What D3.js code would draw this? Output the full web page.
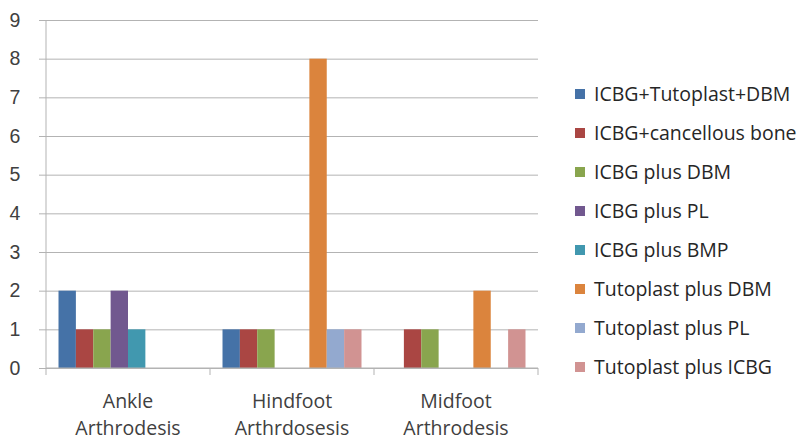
<!DOCTYPE html>
<html>
<head>
<meta charset="utf-8">
<script src="https://cdn.jsdelivr.net/npm/d3@7"></script>
<style>
  html, body { margin: 0; padding: 0; background: #fff; }
  svg { display: block; font-family: "Open Sans", "DejaVu Sans", sans-serif; }
</style>
</head>
<body>
<svg id="chart" width="804" height="439"></svg>
<script>
// Procedure categories (second-line words split for the wrapped axis labels)
const categories = ["Ankle Arthrodesis", "Hindfoot Arthrdosesis", "Midfoot Arthrodesis"];
const categoryLines = [["Ankle", "Arthrodesis"], ["Hindfoot", "Arthrdosesis"], ["Midfoot", "Arthrodesis"]];

// Graft types (series)
const seriesNames = [
  "ICBG+Tutoplast+DBM",
  "ICBG+cancellous bone",
  "ICBG plus DBM",
  "ICBG plus PL",
  "ICBG plus BMP",
  "Tutoplast plus DBM",
  "Tutoplast plus PL",
  "Tutoplast plus ICBG"
];
const seriesColors = ["#4572a7", "#aa4643", "#89a54e", "#71588f", "#4198af", "#db843d", "#93a9cf", "#d19392"];

// Counts per graft type, one value per category (Ankle, Hindfoot, Midfoot)
const icbgTutoplastDbm   = [2, 1, 0];
const icbgCancellous     = [1, 1, 1];
const icbgDbm            = [1, 1, 1];
const icbgPl             = [2, 0, 0];
const icbgBmp            = [1, 0, 0];
const tutoplastDbm       = [0, 8, 2];
const tutoplastPl        = [0, 1, 0];
const tutoplastIcbg      = [0, 1, 1];
const seriesValues = [icbgTutoplastDbm, icbgCancellous, icbgDbm, icbgPl, icbgBmp, tutoplastDbm, tutoplastPl, tutoplastIcbg];

const yTicks = [0, 1, 2, 3, 4, 5, 6, 7, 8, 9];

const svg = d3.select("#chart");
const margin = { left: 46, right: 266, top: 20, bottom: 71 };
const W = 804, H = 439;
const plotW = W - margin.left - margin.right;
const plotH = H - margin.top - margin.bottom;

const g = svg.append("g").attr("transform", `translate(${margin.left},${margin.top})`);

const x0 = d3.scaleBand().domain(categories).range([0, plotW]).paddingInner(0).paddingOuter(0);
const x1 = d3.scaleBand().domain(seriesNames).range([0, x0.bandwidth()]).paddingOuter(0.72).paddingInner(0);
const y = d3.scaleLinear().domain([0, 9]).range([plotH, 0]);

const gridColor = "#b3b3b3";
const textColor = "#404040";

// Horizontal gridlines and y-axis labels
const yAxis = d3.axisLeft(y).tickValues(yTicks).tickSize(-plotW).tickPadding(12).tickFormat(d3.format("d"));
const yg = g.append("g").call(yAxis);
yg.select(".domain").remove();
yg.selectAll(".tick line").attr("stroke", gridColor).attr("x1", -7);
yg.selectAll(".tick text").attr("fill", textColor).style("font-size", "19.5px").attr("x", -31).attr("text-anchor", "middle");

// Vertical axis line
g.append("line").attr("x1", 0).attr("x2", 0).attr("y1", 0).attr("y2", plotH + 7)
  .attr("stroke", gridColor);

// Bars
const groups = g.selectAll("g.cat").data(categories).join("g")
  .attr("class", "cat")
  .attr("transform", d => `translate(${x0(d)},0)`);

groups.selectAll("rect")
  .data((c, ci) => seriesNames.map((s, si) => ({ s, si, v: seriesValues[si][ci] })).filter(d => d.v > 0))
  .join("rect")
  .attr("x", d => x1(d.s))
  .attr("width", x1.bandwidth())
  .attr("y", d => y(d.v))
  .attr("height", d => y(0) - y(d.v))
  .attr("fill", d => seriesColors[d.si]);

// Category axis with tick marks at the band boundaries
const xg = g.append("g").attr("transform", `translate(0,${plotH})`);
xg.append("line").attr("x1", 0).attr("x2", plotW).attr("stroke", gridColor);
const boundaries = categories.map(c => x0(c) + x0.bandwidth());
xg.selectAll("line.tick").data(boundaries).join("line")
  .attr("class", "tick")
  .attr("x1", d => d).attr("x2", d => d).attr("y1", 0).attr("y2", 7)
  .attr("stroke", gridColor);

const labels = xg.selectAll("text.cat").data(categories).join("text")
  .attr("class", "cat")
  .attr("text-anchor", "middle")
  .attr("fill", textColor)
  .style("font-size", "19.5px")
  .attr("transform", d => `translate(${x0(d) + x0.bandwidth() / 2},0)`);
labels.selectAll("tspan").data((d, i) => categoryLines[i]).join("tspan")
  .attr("x", 0)
  .attr("y", (d, i) => 40 + i * 27)
  .text(d => d);

// Legend
const legend = svg.append("g").attr("transform", "translate(575,94)");
const items = legend.selectAll("g").data(seriesNames).join("g")
  .attr("transform", (d, i) => `translate(0,${i * 39})`);
items.append("rect").attr("x", 0).attr("y", -5).attr("width", 10).attr("height", 10)
  .attr("fill", (d, i) => seriesColors[i]);
items.append("text").attr("x", 19).attr("y", 0).attr("dy", "0.35em")
  .attr("fill", "#262626")
  .style("font-size", "19.5px")
  .text(d => d);
</script>
</body>
</html>
